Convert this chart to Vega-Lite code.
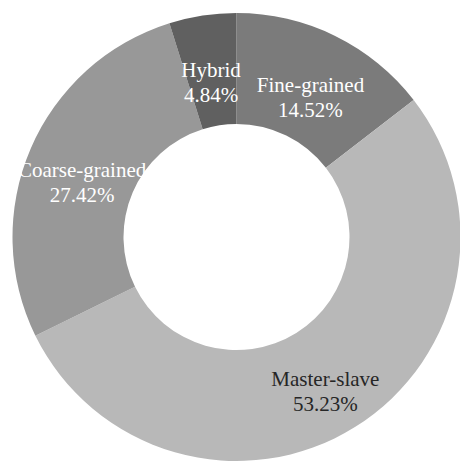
{
  "$schema": "https://vega.github.io/schema/vega-lite/v6.json",
  "width": 460,
  "height": 463,
  "autosize": {"type": "fit", "contains": "padding"},
  "padding": {"left": 13, "top": 11, "right": 0, "bottom": 0},
  "background": "white",
  "view": {"stroke": null},
  "data": {
    "values": [
      {"idx": 1, "name": "Fine-grained", "value": 14.52, "label": ["Fine-grained", "14.52%"]},
      {"idx": 2, "name": "Master-slave", "value": 53.23, "label": ["Master-slave", "53.23%"]},
      {"idx": 3, "name": "Coarse-grained", "value": 27.42, "label": ["Coarse-grained", "27.42%"]},
      {"idx": 4, "name": "Hybrid", "value": 4.84, "label": ["Hybrid", "4.84%"]}
    ]
  },
  "encoding": {
    "theta": {"field": "value", "type": "quantitative", "stack": true},
    "order": {"field": "idx", "type": "ordinal"}
  },
  "layer": [
    {
      "mark": {"type": "arc", "outerRadius": 224, "innerRadius": 113},
      "encoding": {
        "color": {
          "field": "name",
          "type": "nominal",
          "scale": {
            "domain": ["Fine-grained", "Master-slave", "Coarse-grained", "Hybrid"],
            "range": ["#7b7b7b", "#b8b8b8", "#989898", "#606060"]
          },
          "legend": null
        }
      }
    },
    {
      "mark": {
        "type": "text",
        "radius": 168,
        "font": "Liberation Serif",
        "fontSize": 21,
        "lineHeight": 25,
        "align": "center",
        "baseline": "middle"
      },
      "encoding": {
        "text": {"field": "label"},
        "color": {
          "condition": {"test": "datum.name === 'Master-slave'", "value": "#262626"},
          "value": "#ffffff"
        }
      }
    }
  ]
}
